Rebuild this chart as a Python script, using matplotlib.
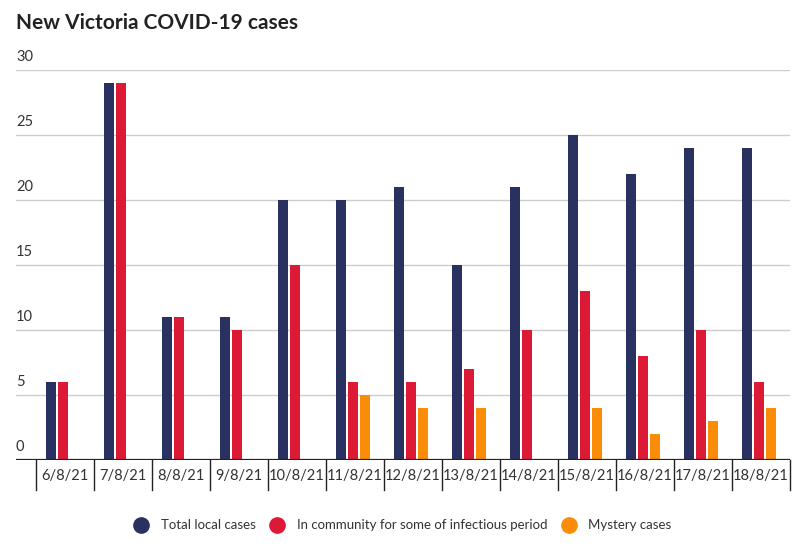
import matplotlib.pyplot as plt
from matplotlib.lines import Line2D
import numpy as np

plt.rcParams['font.family'] = ['Lato', 'DejaVu Sans']

dates = ['6/8/21', '7/8/21', '8/8/21', '9/8/21', '10/8/21', '11/8/21', '12/8/21',
         '13/8/21', '14/8/21', '15/8/21', '16/8/21', '17/8/21', '18/8/21']
total_local = [6, 29, 11, 11, 20, 20, 21, 15, 21, 25, 22, 24, 24]
community = [6, 29, 11, 10, 15, 6, 6, 7, 10, 13, 8, 10, 6]
mystery = [0, 0, 0, 0, 0, 5, 4, 4, 0, 4, 2, 3, 4]

navy = '#28315f'
red = '#dd1a35'
orange = '#fb8c07'

fig = plt.figure(figsize=(8, 5.47), dpi=100)
ax = fig.add_axes([0.02, 0.159, 0.9675, 0.713])

x = np.arange(len(dates)) - 0.03
w = 0.172
step = 0.207
ax.bar(x - step, total_local, w, color=navy)
ax.bar(x, community, w, color=red)
ax.bar(x + step, mystery, w, color=orange)

ax.set_xlim(-0.5 - 20 / 58, len(dates) - 0.5)
ax.set_ylim(0, 30)
for s in ax.spines.values():
    s.set_visible(False)
ax.set_xticks([])
ax.set_yticks([])

# gridlines and y labels
for v in range(5, 31, 5):
    ax.axhline(v, color='#cccccc', lw=1, zorder=0)
for v in range(0, 31, 5):
    ax.text(0.0, v + 0.45, str(v), transform=ax.get_yaxis_transform(),
            ha='left', va='bottom', fontsize=10.5, color='#333333')
ax.axhline(0, color='#222222', lw=1.6, zorder=3)

# boxed category labels
tr = ax.get_xaxis_transform()
for k in range(len(dates) + 1):
    ax.plot([k - 0.5, k - 0.5], [0, -0.078], transform=tr, color='#222222',
            lw=1, clip_on=False)
for i, d in enumerate(dates):
    ax.text(i, -0.04, d, transform=tr, ha='center', va='center',
            fontsize=10.5, color='#333333')

fig.text(0.02, 0.958, 'New Victoria COVID-19 cases', fontsize=15,
         fontweight='bold', color='#222222', va='center', ha='left')

handles = [Line2D([], [], marker='o', ls='', markersize=11, color=c)
           for c in (navy, red, orange)]
labels = ['Total local cases', 'In community for some of infectious period', 'Mystery cases']
fig.legend(handles, labels, loc='center', bbox_to_anchor=(0.5, 0.04), ncol=3,
           frameon=False, fontsize=9.5, handletextpad=0.5, columnspacing=0.6,
           labelcolor='#333333')

fig.savefig('out.png', dpi=100)
